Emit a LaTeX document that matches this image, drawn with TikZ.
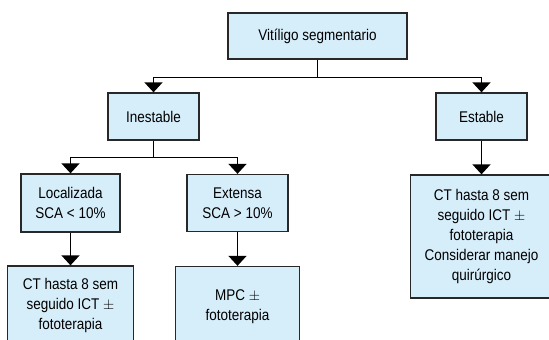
\documentclass[tikz,border=0pt]{standalone}
\usepackage{fontspec}
\setmainfont[FakeStretch=0.87]{Liberation Sans}
\usepackage{tikz}
\usetikzlibrary{arrows.meta}
\definecolor{boxblue}{RGB}{214,237,250}
\definecolor{boxline}{RGB}{40,40,40}
\tikzstyle{box}  = [draw=boxline,fill=boxblue,line width=1.3pt,align=center,inner sep=2pt,font=\fontsize{15.5}{20}\selectfont]
\tikzstyle{link} = [draw=black,line width=1.4pt,-{Triangle[width=18pt,length=10pt]}]

\begin{document}
\begin{tikzpicture}[x=1pt,y=1pt]
\useasboundingbox (0,0) rectangle (549,-340);
\clip (0,0) rectangle (549,-340);

\node[box,minimum width=179pt,minimum height=46pt] (vit) at (317.5,-36) {Vitíligo segmentario};
\node[box,minimum width=91pt,minimum height=47pt]  (inest) [below of=vit,node distance=80.5pt,xshift=-164pt] {Inestable};
\node[box,minimum width=91pt,minimum height=47pt]  (estab) [right of=inest,node distance=328pt] {Estable};
\node[box,minimum width=99pt,minimum height=58pt]  (local) [below of=inest,node distance=86.5pt,xshift=-83pt] {Localizada\\SCA < 10\%};
\node[box,minimum width=101pt,minimum height=57pt] (exten) [right of=local,node distance=167pt] {Extensa\\SCA > 10\%};
\node[box,minimum width=126pt,minimum height=78pt] (resL)  [below of=local,node distance=102pt] {CT hasta 8 sem\\seguido ICT $\pm$\\fototerapia};
\node[box,minimum width=124pt,minimum height=80pt] (resM)  [below of=exten,node distance=103.5pt] {MPC $\pm$\\fototerapia};
\node[box,minimum width=142pt,minimum height=123pt] (resR) [below of=estab,node distance=120pt] {CT hasta 8 sem\\seguido ICT $\pm$\\fototerapia\\Considerar manejo\\quirúrgico};

\draw[link] (vit.south) -- ++(0,-18) -| (inest.north);
\draw[link] (vit.south) -- ++(0,-18) -| (estab.north);
\draw[link] (inest.south) -- ++(0,-17) -| (local.north);
\draw[link] (inest.south) -- ++(0,-17) -| (exten.north);
\draw[link] (local) -- (resL);
\draw[link] (exten) -- (resM);
\draw[link] (estab) -- (resR);
\end{tikzpicture}
\end{document}
